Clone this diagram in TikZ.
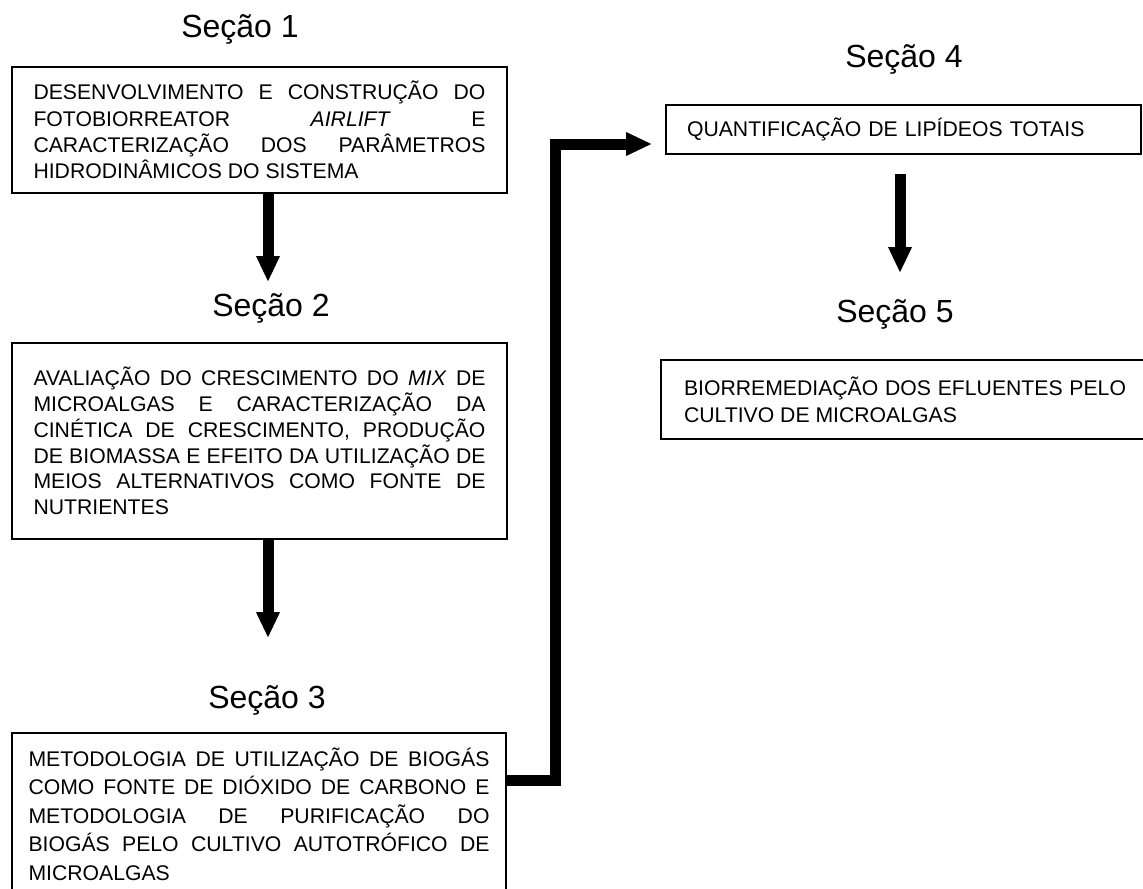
\documentclass[tikz,border=0pt]{standalone}
\usepackage{fontspec}
\setmainfont{Liberation Sans}
\usetikzlibrary{arrows.meta}
\hbadness=10000

\begin{document}
\begin{tikzpicture}[x=0.5pt,y=-0.5pt,
  secao/.style={font=\fontsize{16}{19}\selectfont,anchor=base,inner sep=0pt},
  etapa/.style={draw,line width=0.8pt,inner sep=0pt,align=justify,
                font=\fontsize{10.6}{13.2}\selectfont},
  seta/.style={line width=5.5pt,-{Triangle[width=11pt,length=13pt]}}
]
\useasboundingbox (0,0) rectangle (1143,888);

% coluna da esquerda
\node[secao] (sec1) at (240,38) {Seção 1};
\node[etapa,minimum width=247.5pt,minimum height=63pt,text width=226pt] (e1) at (259.5,130)
  {DESENVOLVIMENTO E CONSTRUÇÃO DO\linebreak
   FOTOBIORREATOR \textit{AIRLIFT} E\linebreak
   CARACTERIZAÇÃO DOS PARÂMETROS\linebreak
   HIDRODINÂMICOS DO SISTEMA};
\node[secao] (sec2) at (271,316) {Seção 2};
\node[etapa,minimum width=247.5pt,minimum height=98pt,text width=226pt,
      font=\fontsize{10.6}{12.9}\selectfont] (e2) at (259.5,441)
  {AVALIAÇÃO DO CRESCIMENTO DO \textit{MIX} DE\linebreak
   MICROALGAS E CARACTERIZAÇÃO DA\linebreak
   CINÉTICA DE CRESCIMENTO, PRODUÇÃO\linebreak
   DE BIOMASSA E EFEITO DA UTILIZAÇÃO DE\linebreak
   MEIOS ALTERNATIVOS COMO FONTE DE\linebreak
   NUTRIENTES};
\node[secao] (sec3) at (267,708) {Seção 3};
\node[etapa,minimum width=247pt,minimum height=81pt,text width=230.5pt,
      font=\fontsize{10.6}{14.25}\selectfont] (e3) at (259,814)
  {METODOLOGIA DE UTILIZAÇÃO DE BIOGÁS\linebreak
   COMO FONTE DE DIÓXIDO DE CARBONO E\linebreak
   METODOLOGIA DE PURIFICAÇÃO DO\linebreak
   BIOGÁS PELO CULTIVO AUTOTRÓFICO DE\linebreak
   MICROALGAS};

% coluna da direita
\node[secao] (sec4) at (904,68) {Seção 4};
\node[etapa,minimum width=237.5pt,minimum height=24.5pt,text width=216.5pt,align=left] (e4) at (903.5,129.5)
  {QUANTIFICAÇÃO DE LIPÍDEOS TOTAIS};
\node[secao] (sec5) at (895,322) {Seção 5};
\node[etapa,minimum width=244pt,minimum height=39.5pt,text width=221pt,
      font=\fontsize{10.6}{13.35}\selectfont] (e5) at (905,399.5)
  {BIORREMEDIAÇÃO DOS EFLUENTES PELO\linebreak
   CULTIVO DE MICROALGAS};

% setas
\coordinate (p1) at (268,282);
\coordinate (p2) at (268,638);
\coordinate (p3) at (555,780);
\coordinate (p4) at (652,144);
\coordinate (p5) at (900,273);
\draw[seta] (e1.south -| p1) -- (p1);
\draw[seta] (e2.south -| p2) -- (p2);
\draw[seta] (e3.east |- p3) -- (p3) |- (p4);
\draw[seta,shorten <=9.5pt] (e4.south -| p5) -- (p5);
\end{tikzpicture}
\end{document}
